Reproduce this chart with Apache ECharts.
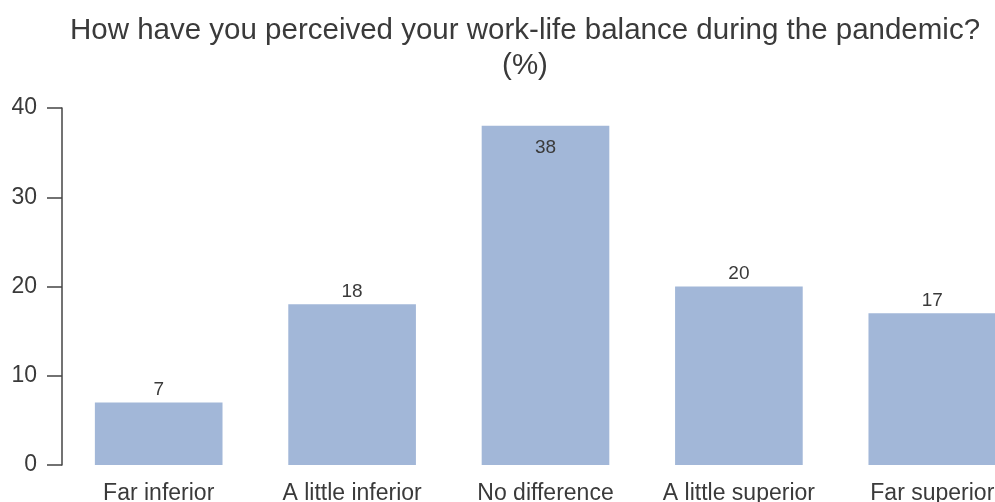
<!DOCTYPE html>
<html>
<head>
<meta charset="utf-8">
<script src="https://cdn.jsdelivr.net/npm/echarts@6/dist/echarts.min.js"></script>
<style>
  html, body { margin: 0; padding: 0; background: #fff; }
  #chart { width: 995px; height: 502px; }
</style>
</head>
<body>
<div id="chart"></div>
<script>
const categories = ["Far inferior", "A little inferior", "No difference", "A little superior", "Far superior"];
const values = [7, 18, 38, 20, 17];
const yTicks = [0, 10, 20, 30, 40];

const chart = echarts.init(document.getElementById("chart"));
const font = "Liberation Sans, Arial, sans-serif";

const option = {
  animation: false,
  title: {
    text: "How have you perceived your work-life balance during the pandemic?\n(%)",
    left: 520,
    top: 8,
    textAlign: "center",
    textStyle: {
      fontFamily: font,
      fontSize: 29.5,
      fontWeight: "normal",
      color: "#3a3a3a",
      lineHeight: 35,
    },
  },
  grid: {
    left: 62,
    top: 108,
    width: 967,
    height: 357,
    containLabel: false,
    outerBoundsMode: "none",
  },
  xAxis: {
    type: "category",
    data: categories,
    axisLine: { show: false },
    axisTick: { show: false },
    axisLabel: {
      fontFamily: font,
      fontSize: 23,
      color: "#3a3a3a",
      margin: 17,
      interval: 0,
    },
  },
  yAxis: {
    type: "value",
    min: yTicks[0],
    max: yTicks[yTicks.length - 1],
    interval: 10,
    splitLine: { show: false },
    axisLine: { show: true, lineStyle: { color: "#444", width: 1.5 } },
    axisTick: { show: true, length: 15, lineStyle: { color: "#444", width: 1.5 } },
    axisLabel: {
      fontFamily: font,
      fontSize: 23,
      color: "#3a3a3a",
      margin: 25,
    },
  },
  series: [
    {
      type: "bar",
      barCategoryGap: "34%",
      itemStyle: { color: "#a2b7d8" },
      label: {
        show: true,
        position: "top",
        distance: 3,
        fontFamily: font,
        fontSize: 19,
        color: "#3a3a3a",
      },
      data: values.map((v) =>
        v === 38
          ? { value: v, label: { position: "insideTop", distance: 12 } }
          : v
      ),
    },
  ],
};

chart.setOption(option);
</script>
</body>
</html>
